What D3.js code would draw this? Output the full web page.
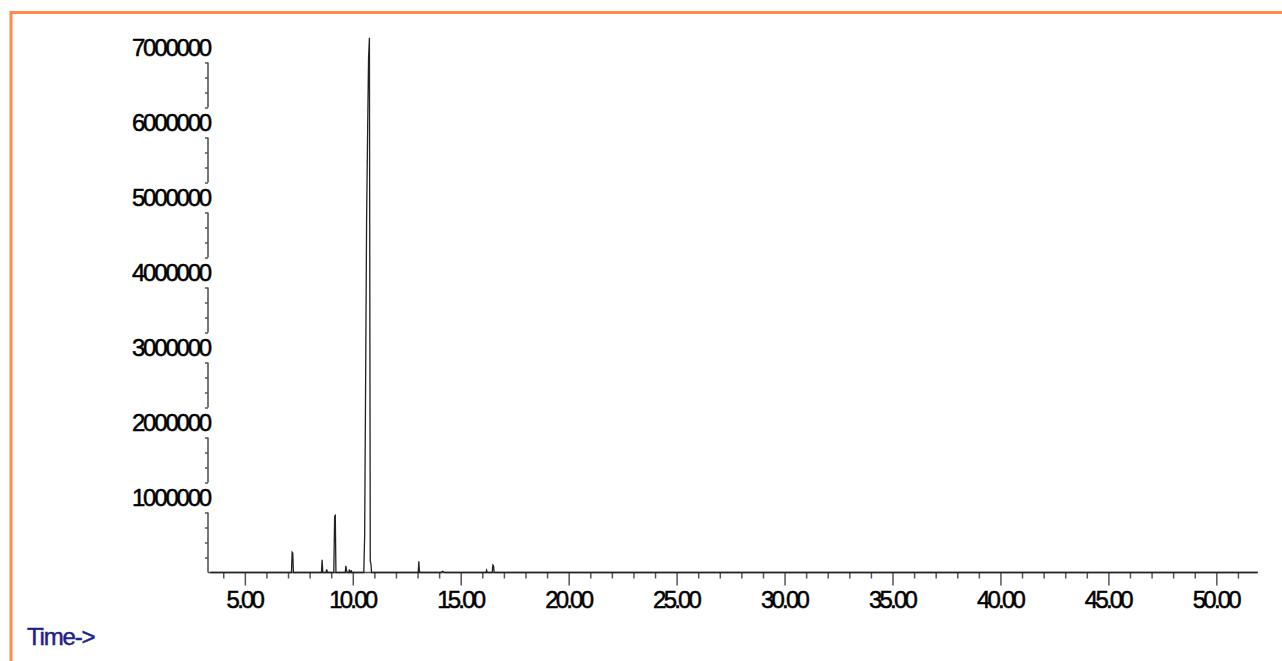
<!DOCTYPE html>
<html>
<head>
<meta charset="utf-8">
<script src="https://cdn.jsdelivr.net/npm/d3@7"></script>
<style>
  html, body { margin: 0; padding: 0; background: #ffffff; }
  svg { display: block; }
  text { font-family: "Liberation Sans", Arial, sans-serif; }
</style>
</head>
<body>
<script>
// ---- data ----
const times = [3.40, 7.16, 7.19, 7.22, 7.25, 8.55, 8.58, 8.61, 8.76, 8.79, 8.83,
  9.12, 9.16, 9.19, 9.22, 9.65, 9.68, 9.71, 9.74, 9.82, 9.84, 9.87, 9.91, 9.93, 9.96,
  10.51, 10.55, 10.60, 10.64, 10.69, 10.73, 10.77, 10.81, 10.84, 10.87,
  13.03, 13.06, 13.08, 13.10, 14.10, 14.15, 14.20, 14.25,
  16.17, 16.20, 16.23, 16.46, 16.49, 16.52, 16.55, 51.90];
const abundance = [0, 0, 270000, 260000, 0, 0, 170000, 0, 0, 40000, 0,
  0, 750000, 760000, 0, 0, 90000, 30000, 0, 0, 40000, 0, 0, 30000, 0,
  0, 490000, 2800000, 4700000, 5950000, 6850000, 7130000, 150000, 120000, 0,
  0, 150000, 40000, 0, 0, 15000, 10000, 0,
  0, 30000, 0, 0, 100000, 90000, 0, 0];
const xMajorTicks = [5, 10, 15, 20, 25, 30, 35, 40, 45, 50];
const xTickLabels = ["5.00", "10.00", "15.00", "20.00", "25.00", "30.00", "35.00", "40.00", "45.00", "50.00"];
const yMajorTicks = [1000000, 2000000, 3000000, 4000000, 5000000, 6000000, 7000000];
const yTickLabels = ["1000000", "2000000", "3000000", "4000000", "5000000", "6000000", "7000000"];
const xLabel = "Time->";

// ---- layout ----
const W = 1282, H = 661;
const svg = d3.select("body").append("svg").attr("width", W).attr("height", H);
svg.append("rect").attr("width", W).attr("height", H).attr("fill", "#fff");

// orange frame (top + left visible)
svg.append("rect").attr("x", 11).attr("y", 12.5).attr("width", W + 20).attr("height", H + 20)
  .attr("fill", "none").attr("stroke", "#ff8a4c").attr("stroke-width", 3);

const x = d3.scaleLinear().domain([3.34, 51.93]).range([209, 1258]);
const y = d3.scaleLinear().domain([0, 7000000]).range([572.5, 47.5]);
const axisColor = "#555";
const labelFont = "'Liberation Sans', Arial, sans-serif";

// x axis minor ticks
const minor = d3.range(4, 52, 1).filter(v => v % 5 !== 0);
const gx = svg.append("g").attr("transform", `translate(0,${y(0)})`);
gx.append("line").attr("x1", x.range()[0] - 1).attr("x2", x.range()[1])
  .attr("stroke", axisColor).attr("stroke-width", 1.6);
gx.call(g => {
  const ax = d3.axisBottom(x).tickValues(minor).tickSize(6).tickFormat("").tickSizeOuter(0);
  const sub = g.append("g").call(ax);
  sub.select(".domain").remove();
  sub.selectAll("line").attr("stroke", axisColor).attr("stroke-width", 1.5);
});
gx.call(g => {
  const ax = d3.axisBottom(x).tickValues(xMajorTicks).tickSize(13).tickSizeOuter(0)
    .tickPadding(5).tickFormat((d, i) => xTickLabels[i]);
  const sub = g.append("g").call(ax);
  sub.select(".domain").remove();
  sub.selectAll("line").attr("stroke", axisColor).attr("stroke-width", 1.5);
  sub.selectAll("text").attr("fill", "#000").attr("font-size", 24)
    .attr("letter-spacing", "-2.8px").attr("font-family", labelFont)
    .attr("stroke", "#000").attr("stroke-width", 0.5)
    .attr("dx", "-1px");
});

// y axis: segmented line between labels, minor ticks
const gy = svg.append("g").attr("transform", `translate(${x.range()[0] - 1},0)`);
const segs = [[0, 800000]].concat(d3.range(1000000, 7000000, 1000000).map(v => [v + 200000, v + 800000]));
gy.selectAll("line.seg").data(segs).join("line").attr("class", "seg")
  .attr("x1", 0).attr("x2", 0).attr("y1", d => y(d[0])).attr("y2", d => y(d[1]))
  .attr("stroke", axisColor).attr("stroke-width", 1.6);
const yMinor = d3.range(200000, 7000000, 200000).filter(v => v % 1000000 !== 0);
gy.append("g").call(d3.axisLeft(y).tickValues(yMinor).tickSize(3).tickFormat("").tickSizeOuter(0))
  .call(g => { g.select(".domain").remove(); g.selectAll("line").attr("stroke", axisColor).attr("stroke-width", 1.5); });
gy.append("g").call(d3.axisLeft(y).tickValues(yMajorTicks).tickSize(0).tickPadding(-2)
    .tickFormat((d, i) => yTickLabels[i]).tickSizeOuter(0))
  .call(g => {
    g.select(".domain").remove();
    g.selectAll("text").attr("fill", "#000").attr("font-size", 24).attr("letter-spacing", "-2.2px")
      .attr("font-family", labelFont).attr("stroke", "#000").attr("stroke-width", 0.5);
  });

// chromatogram line
const pts = times.map((t, i) => [t, abundance[i]]);
svg.append("path").datum(pts)
  .attr("d", d3.line().x(d => x(d[0])).y(d => y(d[1])))
  .attr("fill", "none").attr("stroke", "#222").attr("stroke-width", 1.3)
  .attr("stroke-linejoin", "miter");

// axis title
svg.append("text").attr("x", 27).attr("y", 645).text(xLabel)
  .attr("fill", "#1f1f8c").attr("stroke", "#1f1f8c").attr("stroke-width", 0.5)
  .attr("font-size", 24).attr("letter-spacing", "-1.2px");
</script>
</body>
</html>
